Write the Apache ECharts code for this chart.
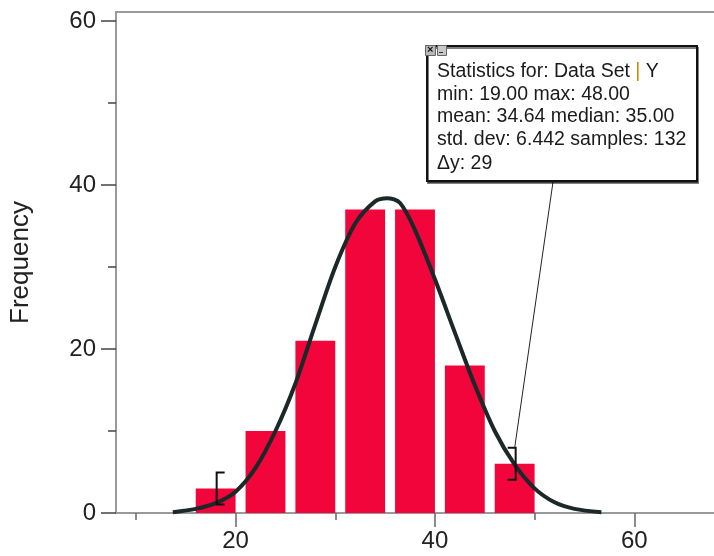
<!DOCTYPE html>
<html>
<head>
<meta charset="utf-8">
<script src="https://cdn.jsdelivr.net/npm/echarts@6/dist/echarts.min.js"></script>
<style>
  html, body { margin: 0; padding: 0; background: #fff; }
  #chart { width: 714px; height: 556px; }
</style>
</head>
<body>
<div id="chart"></div>
<script>
// histogram: bin starts (width 5) and counts
const binStarts = [15, 20, 25, 30, 35, 40, 45];
const binWidth = 5;
const counts = [3, 10, 21, 37, 37, 18, 6];

// fitted curve
const curveX = [13.7, 16, 18, 20, 22, 24, 26, 28, 30, 32, 34, 35.2,
  36.5, 38, 40, 42, 44, 46, 48, 50, 52, 54, 56.7];
const curveY = [0.1, 0.5, 1.2, 2.6, 5.5, 10.0, 15.8, 23.0, 30.0, 35.3, 38.0, 38.4,
  37.8, 34.5, 28.5, 22.0, 15.6, 10.0, 5.9, 3.0, 1.3, 0.5, 0.1];

// examine-cursor brackets [x, y, side]  side -1 = "[", 1 = "]"
const brackets = [[18.1, 3, -1], [48.1, 6, 1]];

const xMajor = [20, 40, 60];
const xMinor = [10, 30, 50];
const yMajor = [0, 20, 40, 60];
const yMinor = [10, 30, 50];

const statLines = [
  'Statistics for: Data Set {bar||} Y',
  'min: 19.00 max: 48.00',
  'mean: 34.64 median: 35.00',
  'std. dev: 6.442 samples: 132',
  '\u0394y: 29'
];

const FONT = '"Liberation Sans", Arial, sans-serif';
const axisGray = '#9a9a9a';

const chart = echarts.init(document.getElementById('chart'));

const boxLeft = 426, boxTop = 45, boxW = 270, boxH = 135;
const leaderAnchor = [553, 182];
const lineTops = [62, 85, 107, 130, 154];

const graphics = [
  {
    type: 'rect', left: boxLeft, top: boxTop, z: 100,
    shape: { width: boxW, height: boxH },
    style: { fill: '#fff', stroke: '#111', lineWidth: 2, shadowColor: 'rgba(0,0,0,0.5)', shadowOffsetX: 1, shadowOffsetY: 2 }
  },
  {
    type: 'rect', left: boxLeft - 1, top: boxTop, z: 101,
    shape: { width: 10, height: 10 },
    style: { fill: '#b8b8b8', stroke: '#666', lineWidth: 1 }
  },
  {
    type: 'text', left: boxLeft + 1, top: boxTop - 1, z: 102,
    style: { text: '\u00d7', font: 'bold 11px ' + FONT, fill: '#111' }
  },
  {
    type: 'rect', left: boxLeft + 11, top: boxTop, z: 101,
    shape: { width: 9, height: 10 },
    style: { fill: '#c8c8c8', stroke: '#666', lineWidth: 1 }
  },
  {
    type: 'rect', left: boxLeft + 13, top: boxTop + 7, z: 102,
    shape: { width: 4, height: 1 },
    style: { fill: '#333' }
  }
];
statLines.forEach(function (t, i) {
  graphics.push({
    type: 'text', left: 437, top: lineTops[i], z: 102,
    style: {
      text: t, font: '19.5px ' + FONT, fill: '#1a1a1a',
      rich: { bar: { fill: '#c98a00', font: '19.5px ' + FONT } }
    }
  });
});

chart.setOption({
  animation: false,
  grid: { left: 115, right: 0, top: 12, bottom: 43 },
  graphic: graphics,
  xAxis: [
    {
      type: 'value', min: 8, max: 68, position: 'bottom',
      axisLine: { show: true, onZero: false, lineStyle: { color: axisGray, width: 2 } },
      axisTick: { show: true, customValues: xMajor, length: 14, lineStyle: { color: '#666', width: 1.5 } },
      axisLabel: { customValues: xMajor, margin: 16, fontSize: 24, fontFamily: FONT, color: '#222' },
      splitLine: { show: false }
    },
    {
      type: 'value', min: 8, max: 68, position: 'bottom',
      axisLine: { show: false, onZero: false },
      axisTick: { show: true, customValues: xMinor, length: 7, lineStyle: { color: '#666', width: 1.5 } },
      axisLabel: { show: false },
      splitLine: { show: false }
    },
    {
      type: 'value', min: 8, max: 68, position: 'top',
      axisLine: { show: true, onZero: false, lineStyle: { color: axisGray, width: 2 } },
      axisTick: { show: false },
      axisLabel: { show: false },
      splitLine: { show: false }
    }
  ],
  yAxis: [
    {
      type: 'value', min: 0, max: 61.1, position: 'left',
      name: 'Frequency', nameLocation: 'middle', nameGap: 82,
      nameTextStyle: { fontSize: 26, fontFamily: FONT, color: '#222' },
      axisLine: { show: true, lineStyle: { color: axisGray, width: 2 } },
      axisTick: { show: true, customValues: yMajor, length: 15, lineStyle: { color: '#444', width: 1.5 } },
      axisLabel: { customValues: yMajor, margin: 20, fontSize: 24, fontFamily: FONT, color: '#222' },
      splitLine: { show: false }
    },
    {
      type: 'value', min: 0, max: 61.1, position: 'left',
      axisLine: { show: false },
      axisTick: { show: true, customValues: yMinor, length: 8, lineStyle: { color: '#444', width: 1.5 } },
      axisLabel: { show: false },
      splitLine: { show: false }
    }
  ],
  series: [
    {
      type: 'custom',
      xAxisIndex: 0, yAxisIndex: 0,
      encode: { x: [0, 1], y: 2 },
      data: binStarts.map(function (s, i) { return [s, s + binWidth, counts[i]]; }),
      renderItem: function (params, api) {
        const gap = binWidth * 0.2;
        const p0 = api.coord([api.value(0) + gap, api.value(2)]);
        const p1 = api.coord([api.value(1), 0]);
        return {
          type: 'rect',
          shape: { x: p0[0], y: p0[1], width: p1[0] - p0[0], height: p1[1] - p0[1] },
          style: { fill: '#f2053b' }
        };
      },
      z: 2
    },
    {
      type: 'line',
      xAxisIndex: 0, yAxisIndex: 0,
      data: curveX.map(function (x, i) { return [x, curveY[i]]; }),
      smooth: 0.3,
      symbol: 'none',
      lineStyle: { color: '#1b2828', width: 4 },
      z: 3
    },
    {
      type: 'custom',
      xAxisIndex: 0, yAxisIndex: 0,
      encode: { x: 0, y: 1 },
      data: brackets,
      renderItem: function (params, api) {
        const p = api.coord([api.value(0), api.value(1)]);
        const side = api.value(2);
        const h = 16, arm = 8 * -side;
        const children = [{
          type: 'polyline',
          shape: { points: [[p[0] + arm, p[1] - h], [p[0], p[1] - h], [p[0], p[1] + h], [p[0] + arm, p[1] + h]] },
          style: { stroke: '#111', lineWidth: 2, fill: null }
        }];
        if (side > 0) {
          children.push({
            type: 'line',
            shape: { x1: p[0] - 1, y1: p[1] - h, x2: leaderAnchor[0], y2: leaderAnchor[1] },
            style: { stroke: '#222', lineWidth: 1 }
          });
        }
        return { type: 'group', children: children };
      },
      z: 4
    }
  ]
});
</script>
</body>
</html>
